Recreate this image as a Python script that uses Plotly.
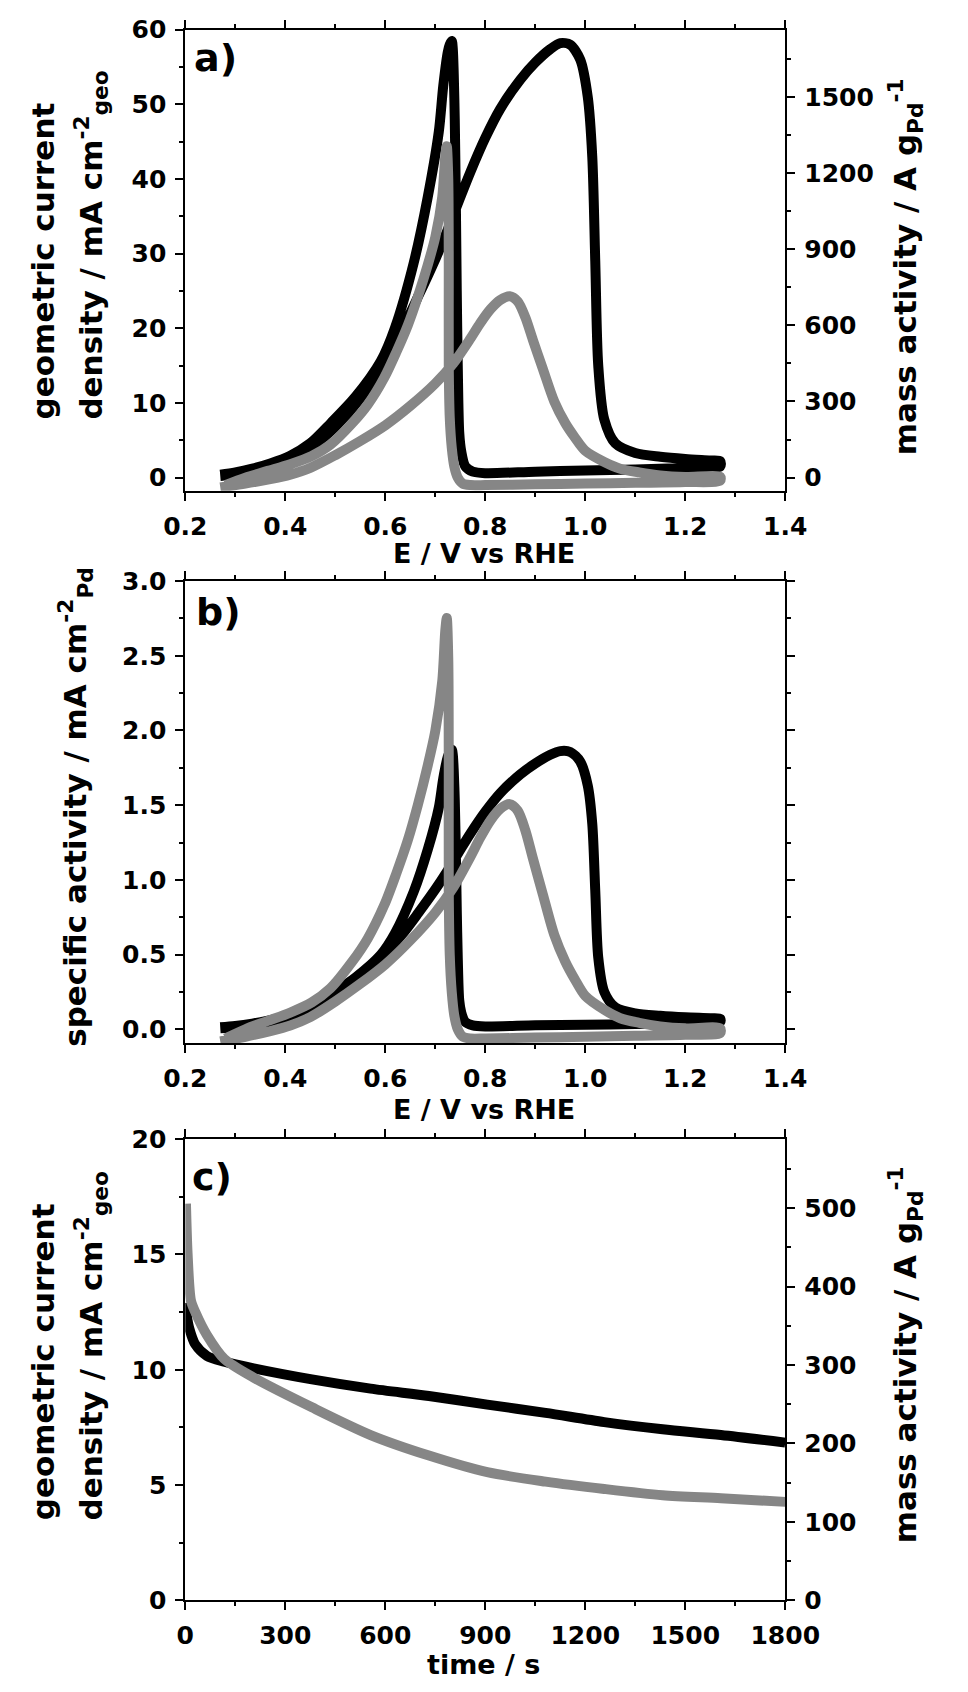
import plotly.graph_objects as go

# panel a / b : cyclic voltammograms (forward and backward scan)
E_black_fwd = [0.27, 0.30, 0.35, 0.40, 0.45, 0.50, 0.55, 0.598, 0.635, 0.666, 0.701, 0.723, 0.748, 0.77, 0.80,
               0.83, 0.87, 0.90, 0.93, 0.95, 0.97, 0.99, 1.005, 1.014, 1.020, 1.026, 1.038, 1.06, 1.10, 1.15,
               1.20, 1.25, 1.27]
E_black_bwd = [1.27, 1.20, 1.10, 1.00, 0.90, 0.80, 0.775, 0.76, 0.752, 0.748, 0.745, 0.743, 0.741, 0.739, 0.737,
               0.735, 0.733, 0.729, 0.725, 0.716, 0.707, 0.685, 0.657, 0.619, 0.591, 0.54, 0.491, 0.45, 0.409,
               0.37, 0.334, 0.30, 0.27]
E_gray_fwd = [0.27, 0.32, 0.37, 0.41, 0.45, 0.50, 0.55, 0.60, 0.65, 0.70, 0.736, 0.77, 0.79, 0.811, 0.83,
              0.849, 0.865, 0.88, 0.895, 0.915, 0.938, 0.96, 0.979, 1.0, 1.038, 1.07, 1.108, 1.15, 1.20, 1.27]
E_gray_bwd = [1.27, 1.20, 1.10, 1.00, 0.90, 0.80, 0.77, 0.755, 0.745, 0.738, 0.733, 0.729, 0.727, 0.727, 0.726,
              0.723, 0.720, 0.714, 0.70, 0.685, 0.665, 0.645, 0.622, 0.598, 0.565, 0.534, 0.49, 0.453, 0.41,
              0.365, 0.32, 0.28]

# geometric current density, mA cm-2 (panel a)
j_black_fwd = [0.2, 0.4, 1.0, 2.2, 4.0, 6.8, 10.6, 15.6, 20.0, 24.3, 29.4, 32.9, 37.2, 40.9, 45.5,
               49.4, 53.3, 55.6, 57.4, 58.2, 58.0, 56.0, 51.0, 43.0, 29.0, 15.0, 7.8, 4.6, 3.3, 2.8,
               2.5, 2.3, 2.2]
j_black_bwd = [1.5, 1.3, 1.1, 0.95, 0.8, 0.6, 0.8, 1.5, 3.5, 6.0, 15.0, 25.0, 38.0, 48.0, 54.0,
               57.5, 58.5, 58.0, 57.0, 52.5, 46.3, 37.6, 28.8, 20.0, 15.6, 10.8, 7.3, 4.6, 2.9,
               1.9, 1.2, 0.7, 0.4]
j_gray_fwd = [-1.3, -0.8, -0.2, 0.4, 1.3, 3.0, 4.9, 7.0, 9.6, 12.6, 15.3, 18.6, 20.7, 22.6, 23.8,
              24.3, 23.6, 21.5, 18.5, 14.6, 10.2, 7.3, 5.4, 3.6, 2.1, 1.2, 0.7, 0.3, 0.1, 0.1]
j_gray_bwd = [-0.4, -0.6, -0.7, -0.8, -0.9, -1.0, -1.0, -0.8, 0.0, 1.5, 4.0, 8.0, 15.0, 28.0, 40.0,
              44.4, 43.0, 37.6, 32.2, 28.5, 24.2, 20.4, 16.8, 13.4, 9.8, 7.3, 4.4, 2.9, 1.8,
              0.9, 0.0, -1.0]

# specific activity, mA cm-2 Pd (panel b)
sa_black_fwd = [0.006, 0.013, 0.032, 0.070, 0.128, 0.218, 0.339, 0.499, 0.640, 0.778, 0.941, 1.053, 1.190,
                1.309, 1.456, 1.581, 1.706, 1.779, 1.837, 1.862, 1.856, 1.792, 1.632, 1.376, 0.928, 0.480,
                0.250, 0.147, 0.106, 0.090, 0.080, 0.074, 0.070]
sa_black_bwd = [0.048, 0.042, 0.035, 0.030, 0.026, 0.019, 0.026, 0.048, 0.112, 0.192, 0.480, 0.800, 1.216,
                1.536, 1.728, 1.840, 1.872, 1.856, 1.824, 1.680, 1.482, 1.203, 0.922, 0.640, 0.499, 0.346,
                0.234, 0.147, 0.093, 0.061, 0.038, 0.022, 0.013]
sa_gray_fwd = [-0.081, -0.050, -0.012, 0.025, 0.081, 0.186, 0.304, 0.434, 0.595, 0.781, 0.949, 1.153, 1.283,
               1.401, 1.476, 1.507, 1.463, 1.333, 1.147, 0.905, 0.632, 0.453, 0.335, 0.223, 0.130, 0.074,
               0.043, 0.019, 0.006, 0.006]
sa_gray_bwd = [-0.025, -0.037, -0.043, -0.050, -0.056, -0.062, -0.062, -0.050, 0.000, 0.093, 0.248, 0.496,
               0.930, 1.736, 2.480, 2.753, 2.666, 2.331, 1.996, 1.767, 1.500, 1.265, 1.042, 0.831, 0.608,
               0.453, 0.273, 0.180, 0.112, 0.056, 0.000, -0.062]

# panel c : chronoamperometry
t_black = [0, 5, 12, 30, 65, 117, 205, 380, 556, 731, 906, 1081, 1257, 1432, 1607, 1800]
j_black_t = [12.9, 12.3, 11.8, 11.1, 10.6, 10.35, 10.06, 9.58, 9.18, 8.86, 8.49, 8.13, 7.73, 7.42, 7.17, 6.84]
t_gray = [2, 7, 17, 30, 65, 117, 205, 380, 556, 731, 906, 1081, 1257, 1432, 1607, 1800]
j_gray_t = [17.2, 15.0, 13.0, 12.5, 11.5, 10.47, 9.66, 8.37, 7.17, 6.28, 5.56, 5.15, 4.83, 4.56, 4.43, 4.27]

BLACK = '#000000'
GRAY = '#868686'
W = 968
H = 1692
FONT = 'DejaVu Sans'
LW = 10


def px_x(v):
    return v / W


def px_y(v):
    return 1 - v / H


def curve(x, y, color, xa, ya):
    return go.Scatter(x=x, y=y, mode='lines', xaxis=xa, yaxis=ya, hoverinfo='skip',
                      line=dict(color=color, width=LW, shape='spline', smoothing=0.8))


fig = go.Figure()

# panel a
fig.add_trace(curve(E_black_fwd + E_black_bwd, j_black_fwd + j_black_bwd, BLACK, 'x', 'y'))
fig.add_trace(curve(E_gray_fwd + E_gray_bwd, j_gray_fwd + j_gray_bwd, GRAY, 'x', 'y'))
fig.add_trace(go.Scatter(x=[None], y=[None], mode='lines', xaxis='x', yaxis='y2', hoverinfo='skip'))

# panel b
fig.add_trace(curve(E_black_fwd + E_black_bwd, sa_black_fwd + sa_black_bwd, BLACK, 'x2', 'y3'))
fig.add_trace(curve(E_gray_fwd + E_gray_bwd, sa_gray_fwd + sa_gray_bwd, GRAY, 'x2', 'y3'))

# panel c
fig.add_trace(curve(t_black, j_black_t, BLACK, 'x3', 'y4'))
fig.add_trace(curve(t_gray, j_gray_t, GRAY, 'x3', 'y4'))
fig.add_trace(go.Scatter(x=[None], y=[None], mode='lines', xaxis='x3', yaxis='y5', hoverinfo='skip'))

tickfont = dict(family=FONT, size=25, color='black', weight='bold')
base = dict(showline=True, linecolor='black', linewidth=2, ticks='outside', ticklen=8, tickwidth=2,
            tickcolor='black', showgrid=False, zeroline=False, tickfont=tickfont, ticklabelstandoff=4)


def minor(d):
    return dict(dtick=d, ticks='outside', ticklen=4, tickwidth=2, tickcolor='black', showgrid=False)


xdom = [px_x(173.5), px_x(811)]
dom_a = [px_y(485), px_y(16)]
dom_b = [px_y(1047.4), px_y(577)]
dom_c = [px_y(1614), px_y(1144.8)]

fig.update_layout(
    width=W, height=H,
    margin=dict(l=0, r=0, t=0, b=0),
    paper_bgcolor='white', plot_bgcolor='white',
    showlegend=False,
    font=dict(family=FONT, color='black'),
    xaxis=dict(base, domain=xdom, anchor='y', range=[0.2, 1.4], tick0=0.2, dtick=0.2, tickformat='.1f',
               mirror='ticks', minor=minor(0.1)),
    yaxis=dict(base, domain=dom_a, anchor='x', range=[-1.75, 60], tick0=0, dtick=10, minor=minor(5)),
    yaxis2=dict(base, overlaying='y', side='right', anchor='x', range=[-51.45, 1764], tick0=0, dtick=300,
                minor=minor(150)),
    xaxis2=dict(base, domain=xdom, anchor='y3', range=[0.2, 1.4], tick0=0.2, dtick=0.2, tickformat='.1f',
                mirror='ticks', minor=minor(0.1)),
    yaxis3=dict(base, domain=dom_b, anchor='x2', range=[-0.095, 3.0], tick0=0, dtick=0.5, tickformat='.1f',
                mirror='ticks', minor=minor(0.25)),
    xaxis3=dict(base, domain=xdom, anchor='y4', range=[0, 1800], tick0=0, dtick=300, mirror='ticks',
                minor=minor(150)),
    yaxis4=dict(base, domain=dom_c, anchor='x3', range=[0, 20], tick0=0, dtick=5, minor=minor(2.5)),
    yaxis5=dict(base, overlaying='y4', side='right', anchor='x3', range=[0, 588], tick0=0, dtick=100,
                minor=minor(50)),
)

title_font = dict(family=FONT, size=31, color='black', weight='bold')
xt_font = dict(family=FONT, size=27, color='black', weight='bold')
panel_font = dict(family=FONT, size=38, color='black', weight='bold')

geo_line1 = 'geometric current'
geo_line2 = 'density / mA cm<sup>-2</sup><sub>geo</sub>'
mass_title = 'mass activity / A g<sub>Pd</sub><sup>-1</sup>'
spec_title = 'specific activity / mA cm<sup>-2</sup><sub>Pd</sub>'

# rotated titles: x is the centre of the rotated text box
annotations = [
    dict(text=geo_line1, x=px_x(22), y=px_y(251), textangle=-90, font=title_font),
    dict(text=geo_line2, x=px_x(74), y=px_y(235), textangle=-90, font=title_font),
    dict(text=mass_title, x=px_x(939), y=px_y(257), textangle=-90, font=title_font),
    dict(text=spec_title, x=px_x(57), y=px_y(807), textangle=-90, font=title_font),
    dict(text=geo_line1, x=px_x(22), y=px_y(1371), textangle=-90, font=title_font),
    dict(text=geo_line2, x=px_x(74), y=px_y(1355), textangle=-90, font=title_font),
    dict(text=mass_title, x=px_x(939), y=px_y(1364), textangle=-90, font=title_font),
    dict(text='E / V vs RHE', x=px_x(491), y=px_y(549), font=xt_font),
    dict(text='E / V vs RHE', x=px_x(491), y=px_y(1115), font=xt_font),
    dict(text='time / s', x=px_x(490), y=px_y(1679), font=xt_font),
    dict(text='a)', x=px_x(181), y=px_y(45), xanchor='left', font=panel_font),
    dict(text='b)', x=px_x(183), y=px_y(608), xanchor='left', font=panel_font),
    dict(text='c)', x=px_x(178), y=px_y(1183), xanchor='left', font=panel_font),
]
for a in annotations:
    a.setdefault('xanchor', 'center')
    a['yanchor'] = 'middle'
    a['xref'] = 'paper'
    a['yref'] = 'paper'
    a['showarrow'] = False
fig.update_layout(annotations=annotations)

# the page body keeps its default 8px margin otherwise
fig.write_html("out.html", config={'displayModeBar': False},
               post_script="document.body.style.margin = '0px';")
